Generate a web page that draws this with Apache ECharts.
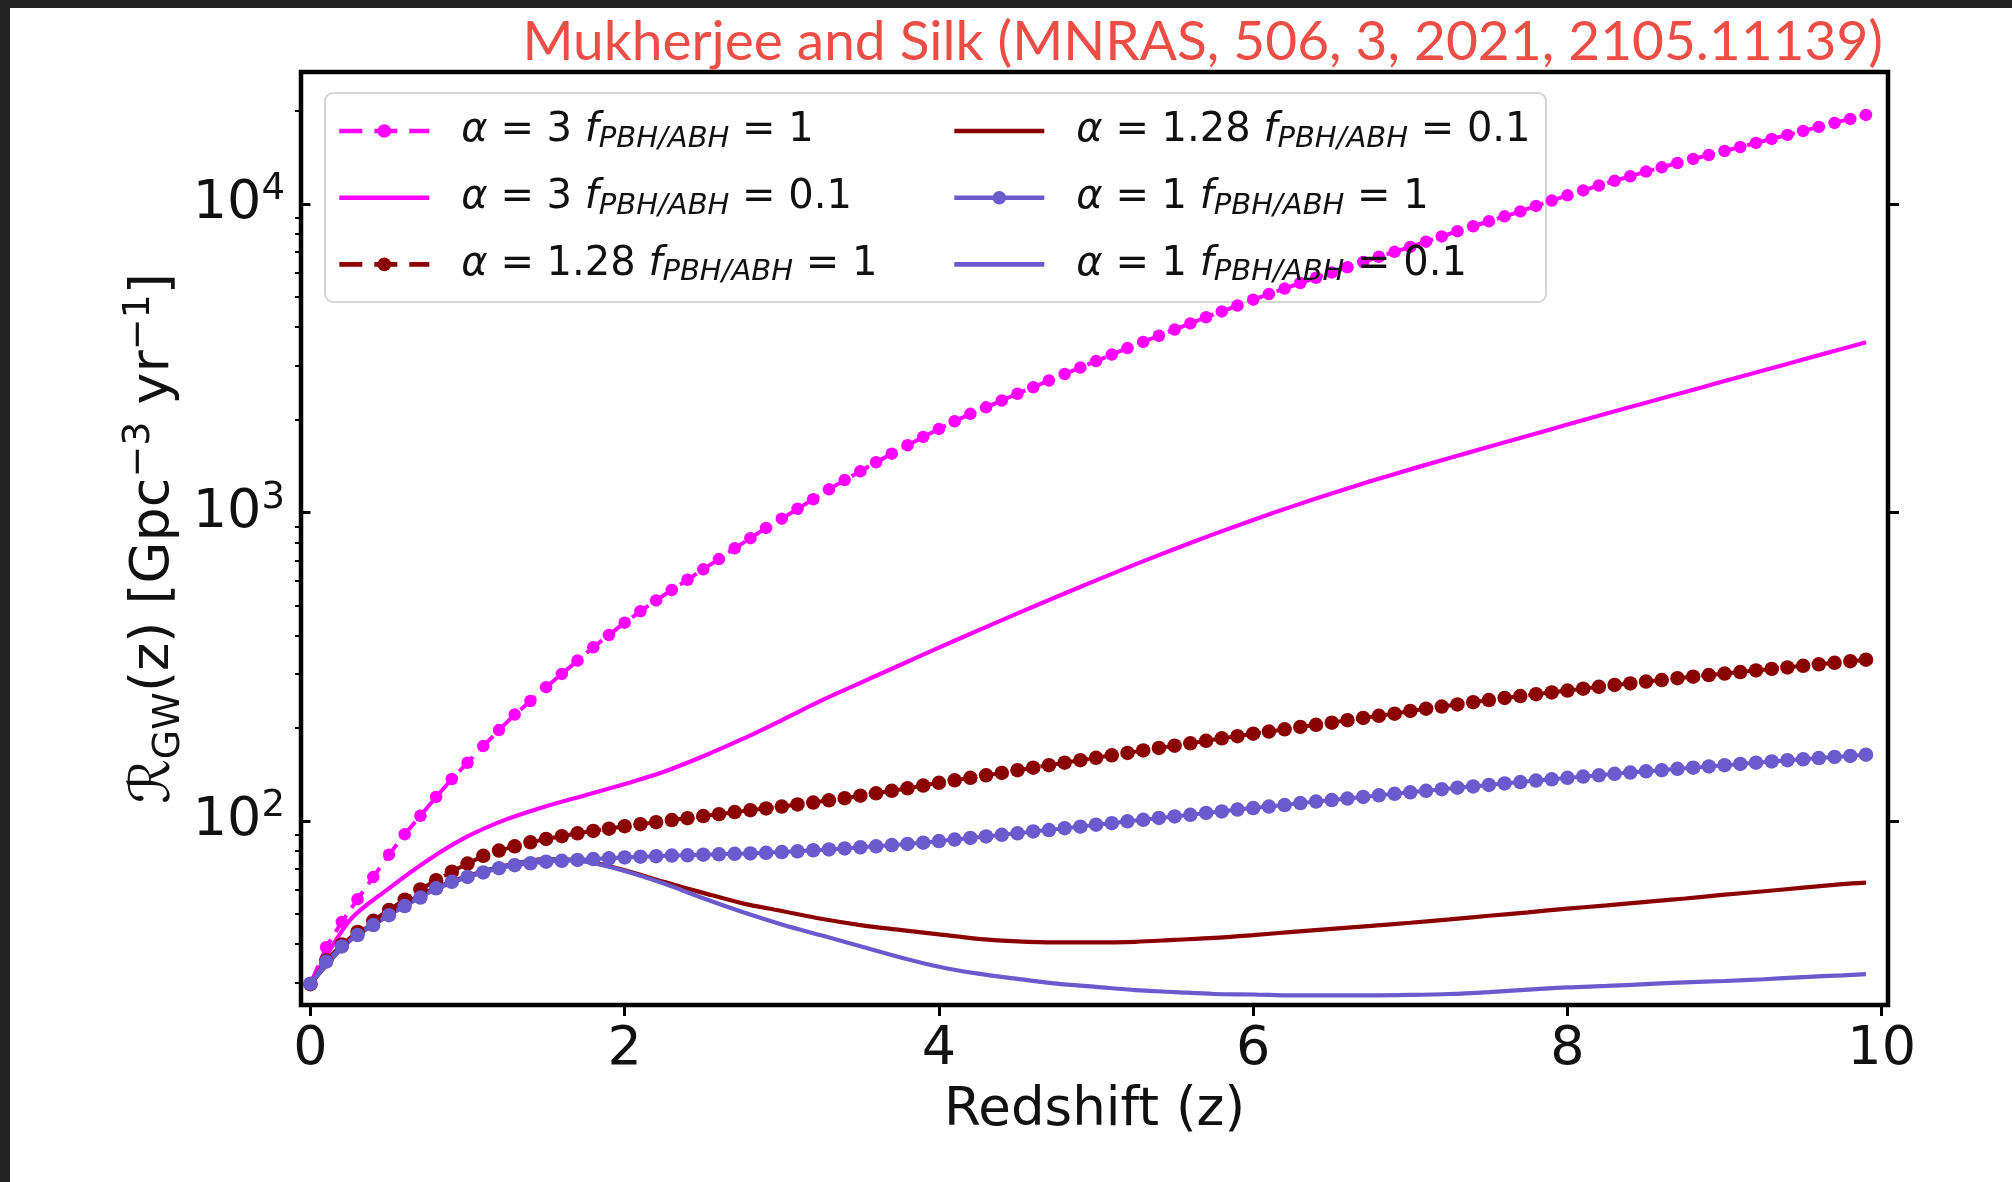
<!DOCTYPE html>
<html><head><meta charset="utf-8">
<script src="https://cdn.jsdelivr.net/npm/echarts@6/dist/echarts.min.js"></script>
<style>html,body{margin:0;padding:0;background:#fff}#c{width:2012px;height:1182px}</style>
</head><body><div id="c"></div>
<script>
// ---------- data ----------
const zFine = [0,0.1,0.2,0.3,0.4,0.5,0.6,0.7,0.8,0.9,
1.0,1.1,1.2,1.3,1.4,1.5,1.6,1.7,1.8,1.9,
2.0,2.1,2.2,2.3,2.4,2.5,2.6,2.7,2.8,2.9,
3.0,3.1,3.2,3.3,3.4,3.5,3.6,3.7,3.8,3.9,
4.0,4.1,4.2,4.3,4.4,4.5,4.6,4.7,4.8,4.9,
5.0,5.1,5.2,5.3,5.4,5.5,5.6,5.7,5.8,5.9,
6.0,6.1,6.2,6.3,6.4,6.5,6.6,6.7,6.8,6.9,
7.0,7.1,7.2,7.3,7.4,7.5,7.6,7.7,7.8,7.9,
8.0,8.1,8.2,8.3,8.4,8.5,8.6,8.7,8.8,8.9,
9.0,9.1,9.2,9.3,9.4,9.5,9.6,9.7,9.8,9.9];
const zCoarse = [0,0.25,0.5,0.75,1.0,1.25,1.5,1.75,2.0,2.25,
2.5,2.75,3.0,3.25,3.5,3.75,4.0,4.25,4.5,4.75,
5.0,5.25,5.5,5.75,6.0,6.25,6.5,6.75,7.0,7.25,
7.5,7.75,8.0,8.25,8.5,8.75,9.0,9.25,9.5,9.75,9.9];

// alpha = 3, f = 1 (dashed with dots)
const a3f1 = [29.6,39.0,47.1,55.8,65.8,77.8,90.6,104.0,119.7,136.8,
154.5,175.0,197.2,221.3,244.9,271.6,299.9,331.1,365.6,400.9,
439.5,478.6,518.8,561.0,605.3,654.6,706.3,765.6,826.0,891.3,
955.0,1028,1104,1189,1274,1361,1455,1552,1652,1758,
1866,1977,2089,2193,2307,2427,2547,2679,2812,2951,
3097,3251,3412,3573,3741,3917,4102,4295,4487,4688,
4898,5105,5321,5546,5768,5998,6237,6486,6745,6998,
7261,7551,7852,8166,8472,8790,9120,9462,9863,10260,
10670,11070,11480,11890,12300,12740,13150,13580,14000,14420,
14860,15310,15780,16260,16750,17260,17780,18320,18880,19450];
// alpha = 3, f = 0.1 (solid)
const a3f01 = [29.6,47.6,60.5,74.8,89.1,101.4,111.7,121.3,131.8,144.5,
162.2,184.5,212.3,245.5,280.5,319.9,364.8,415.0,471.0,533.3,
602.6,679.2,762.1,851.1,946.2,1047,1153,1265,1380,1503,
1633,1774,1928,2094,2270,2460,2667,2891,3133,3396,3565];
// alpha = 1.28, f = 1 (dashed with dots)
const a128f1 = [29.6,35.3,39.8,43.7,47.5,51.5,55.6,60.0,64.3,68.5,
72.8,77.1,80.2,82.8,85.3,87.5,89.3,91.2,92.9,94.4,
96.2,97.7,99.1,100.7,102.1,103.8,105.2,106.9,108.4,109.9,
111.4,113.2,114.8,116.7,118.6,120.8,123.0,125.3,127.6,130.3,
133.0,135.5,138.0,140.6,143.2,146.2,148.9,151.7,154.5,157.4,
160.3,163.3,166.3,169.4,172.6,175.4,178.6,182.0,185.4,188.4,
191.9,195.0,198.2,201.8,205.1,208.4,212.3,215.8,219.3,222.8,
227.5,231.2,235.0,238.8,242.7,246.6,250.6,254.1,257.6,261.2,
264.9,268.5,272.3,276.1,279.3,283.1,286.4,290.4,293.8,297.2,
300.6,304.1,307.6,311.2,314.8,318.4,322.1,325.8,329.6,333.4];
// alpha = 1.28, f = 0.1 (solid)
const a128f01 = [29.6,41.1,50.1,59.2,66.4,71.9,75.2,74.1,69.2,63.5,
58.5,54.1,51.1,48.2,46.0,44.4,42.9,41.5,40.7,40.4,
40.4,40.6,41.2,41.8,42.7,43.7,44.7,45.7,46.8,48.0,
49.3,50.6,52.0,53.3,54.7,56.1,57.7,59.2,60.8,62.4,63.1];
// alpha = 1, f = 1 (solid with dots)
const a1f1 = [29.7,35.0,39.2,42.7,46.0,49.5,53.0,56.5,60.5,63.5,
65.9,68.1,70.3,71.9,72.9,73.8,74.3,74.8,75.3,75.7,
76.2,76.6,76.9,77.3,77.4,77.8,78.0,78.3,78.5,78.9,
79.3,79.8,80.4,80.9,81.5,82.2,82.8,83.6,84.3,85.1,
86.1,87.1,88.1,89.1,90.2,91.2,92.5,93.5,94.8,95.9,
97.3,98.4,99.8,100.9,102.3,103.5,104.7,106.2,107.4,108.9,
110.2,111.4,112.7,114.3,115.6,116.9,118.3,119.7,121.1,122.5,
123.9,125.3,126.8,128.2,129.4,130.9,132.4,133.7,135.2,136.5,
138.0,139.3,140.6,142.2,143.6,144.9,146.2,147.6,148.9,150.3,
151.7,153.1,154.5,156.0,157.4,158.5,160.0,161.4,162.6,164.1];
// alpha = 1, f = 0.1 (solid)
const a1f01 = [29.7,40.9,49.5,58.6,65.9,71.6,75.0,73.8,68.9,62.7,
56.2,50.7,46.2,42.6,39.3,36.2,33.7,32.0,30.8,29.7,
29.0,28.3,27.9,27.5,27.4,27.2,27.2,27.2,27.3,27.5,
27.9,28.4,28.9,29.2,29.6,30.0,30.3,30.7,31.2,31.6,31.9];

const alphaLabels = ['3','3','1.28','1.28','1','1'];
const fLabels = ['1','0.1','1','0.1','1','0.1'];
const xTickValues = [0,2,4,6,8,10];
const yMajorValues = [100,1000,10000];
const yMajorExponents = ['2','3','4'];
const yMinorValues = [30,40,50,60,70,80,90,200,300,400,500,600,700,800,900,
  2000,3000,4000,5000,6000,7000,8000,9000,20000];
const titleText = 'Mukherjee and Silk (MNRAS, 506, 3, 2021, 2105.11139)';
const xName = 'Redshift (z)';

// ---------- build ----------
const MAG = '#ff00ff', DR = '#8b0000', SB = '#6a5acd';
const pairs = (xs, ys) => xs.map((x, i) => [x, ys[i]]);
const names = alphaLabels.map((a, i) => 'α = ' + a + ' fPBH/ABH = ' + fLabels[i]);
const FF = 'DejaVu Sans';
const TXT = '#111';
const YMIN = 25.33, YMAX = 26790, XMIN = -0.06, XMAX = 10.04;
const hasDots = [true, false, true, false, true, false];
const isDashed = [true, false, true, false, false, false];

function dotted(idx, z, v, color, size, dashed) {
  return {
    name: names[idx], type: 'line', xAxisIndex: 0, yAxisIndex: 0,
    data: pairs(z, v), symbol: 'circle', symbolSize: size, showSymbol: true,
    lineStyle: { color: color, width: 4, type: dashed ? [20, 9] : 'solid' },
    itemStyle: { color: color },
    emphasis: { disabled: true }
  };
}
function solid(idx, z, v, color) {
  return {
    name: names[idx], type: 'line', xAxisIndex: 0, yAxisIndex: 0,
    data: pairs(z, v), symbol: 'none', smooth: 0.3,
    lineStyle: { color: color, width: 4.2 },
    itemStyle: { color: color },
    emphasis: { disabled: true }
  };
}

const LFS = 40;
const legendRich = {
  it: { fontFamily: FF, fontStyle: 'italic', fontSize: LFS, lineHeight: 46, color: TXT },
  lead: { fontFamily: FF, fontStyle: 'italic', fontSize: LFS, lineHeight: 46, color: TXT, padding: [0, 0, 0, 27] },
  n: { fontFamily: FF, fontSize: LFS, lineHeight: 46, color: TXT },
  sub: { fontFamily: FF, fontStyle: 'italic', fontSize: 29, lineHeight: 26, verticalAlign: 'bottom', color: TXT }
};
function legendFmt(name) {
  const i = names.indexOf(name);
  return '{lead|α}{n| = ' + alphaLabels[i] + ' }{it|f}{sub|PBH/ABH}{n| = ' + fLabels[i] + '}';
}
function legendItem(i) {
  return {
    name: names[i],
    itemStyle: hasDots[i] ? {} : { opacity: 0 },
    lineStyle: { width: 4.6, type: isDashed[i] ? [23, 12] : 'solid' }
  };
}
function legendComp(list, left) {
  return {
    orient: 'vertical', left: left, top: 108, padding: 0, itemGap: 20.7,
    itemWidth: 90, itemHeight: 17, selectedMode: false,
    data: list.map(legendItem), formatter: legendFmt,
    textStyle: { fontFamily: FF, fontSize: LFS, lineHeight: 46, color: TXT, rich: legendRich }
  };
}

const chart = echarts.init(document.getElementById('c'), null, { renderer: 'canvas' });
chart.setOption({
  animation: false,
  backgroundColor: '#ffffff',
  title: {
    text: titleText, right: 124, top: 10,
    textStyle: { fontFamily: 'Lato', fontSize: 55, fontWeight: 'normal', color: '#ec4d44' }
  },
  grid: { left: 301, top: 72, right: 124, bottom: 177, show: true, borderColor: '#000', borderWidth: 4.5, backgroundColor: 'transparent' },
  legend: [
    legendComp([0, 1, 2], 337),
    legendComp([3, 4, 5], 952)
  ],
  xAxis: [{
    type: 'value', min: XMIN, max: XMAX, position: 'bottom',
    name: xName, nameLocation: 'middle', nameGap: 80, nameMoveOverlap: false,
    nameTextStyle: { fontFamily: FF, fontSize: 53, color: TXT },
    axisLine: { show: false },
    splitLine: { show: false },
    axisTick: { show: true, customValues: xTickValues, length: 11, lineStyle: { color: '#000', width: 3 } },
    axisLabel: { show: true, customValues: xTickValues, margin: 18, fontFamily: FF, fontSize: 54, color: TXT,
      formatter: v => String(Math.round(v)) }
  }],
  yAxis: [{
    type: 'log', logBase: 10, min: YMIN, max: YMAX, position: 'left',
    name: '{cal|ℛ}{sub|GW}{m|(z) [Gpc}{sup|−3}{m| yr}{sup|−1}{m|]}',
    nameLocation: 'middle', nameGap: 113, nameRotate: 90, nameMoveOverlap: false,
    nameTextStyle: { fontFamily: FF, fontSize: 54, color: TXT, rich: {
      m: { fontFamily: FF, fontSize: 54, lineHeight: 68, color: TXT },
      cal: { fontFamily: FF, fontSize: 56, lineHeight: 68, fontStyle: 'italic', color: TXT },
      sub: { fontFamily: FF, fontSize: 38, lineHeight: 46, verticalAlign: 'bottom', color: TXT },
      sup: { fontFamily: FF, fontSize: 38, lineHeight: 34, verticalAlign: 'top', color: TXT }
    } },
    axisLine: { show: false }, splitLine: { show: false },
    axisTick: { show: true, customValues: yMajorValues, length: 11, lineStyle: { color: '#000', width: 3 } },
    axisLabel: { show: true, customValues: yMajorValues, margin: 16,
      formatter: v => '{b|10}{s|' + yMajorExponents[yMajorValues.indexOf(Math.round(v))] + '}',
      rich: {
        b: { fontFamily: FF, fontSize: 54, lineHeight: 66, color: TXT },
        s: { fontFamily: FF, fontSize: 37, lineHeight: 36, verticalAlign: 'top', color: TXT }
      } }
  }, {
    type: 'log', logBase: 10, min: YMIN, max: YMAX, position: 'left',
    axisLine: { show: false }, splitLine: { show: false }, axisLabel: { show: false },
    axisTick: { show: true, customValues: yMinorValues, length: 6, lineStyle: { color: '#000', width: 2 } }
  }, {
    type: 'log', logBase: 10, min: YMIN, max: YMAX, position: 'right',
    axisLine: { show: false }, splitLine: { show: false }, axisLabel: { show: false },
    axisTick: { show: true, customValues: yMajorValues, length: 11, lineStyle: { color: '#000', width: 3 } }
  }],
  graphic: [
    { type: 'rect', z: 3, shape: { x: 325, y: 93, width: 1221, height: 209, r: 8 },
      style: { fill: 'rgba(255,255,255,0.8)', stroke: '#d4d4d4', lineWidth: 2 } },
    { type: 'rect', z: 100, shape: { x: 0, y: 0, width: 2012, height: 8 }, style: { fill: '#232323' } },
    { type: 'rect', z: 100, shape: { x: 0, y: 0, width: 10, height: 1182 }, style: { fill: '#232323' } }
  ],
  series: [
    dotted(0, zFine, a3f1, MAG, 12.5, true),
    solid(1, zCoarse, a3f01, MAG),
    dotted(2, zFine, a128f1, DR, 14.5, true),
    solid(3, zCoarse, a128f01, DR),
    dotted(4, zFine, a1f1, SB, 14.5, false),
    solid(5, zCoarse, a1f01, SB)
  ]
});
</script>
</body></html>
